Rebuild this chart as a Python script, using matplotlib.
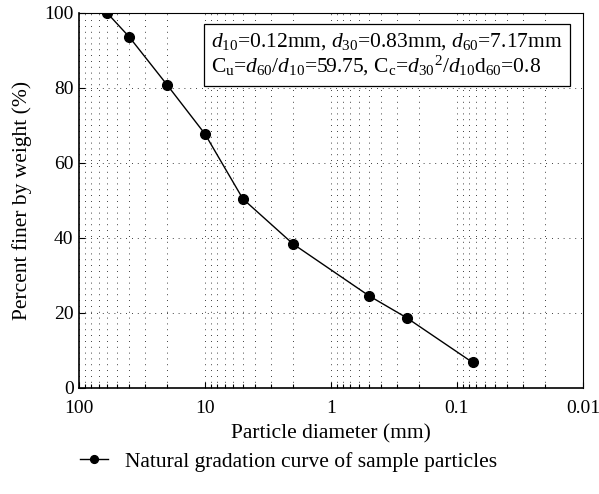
import matplotlib
matplotlib.use("Agg")
import matplotlib.pyplot as plt
import numpy as np

plt.rcParams['font.family'] = 'Liberation Serif'
plt.rcParams['mathtext.fontset'] = 'custom'
plt.rcParams['mathtext.rm'] = 'Liberation Serif'
plt.rcParams['mathtext.it'] = 'Liberation Serif:italic'

# data
diameter = [60, 40, 20, 10, 5, 2, 0.5, 0.25, 0.075]
finer = [100, 93.6, 80.8, 67.7, 50.4, 38.4, 24.6, 18.7, 6.8]
y_ticks = [0, 20, 40, 60, 80, 100]
x_ticks = [100, 10, 1, 0.1, 0.01]
x_ticklabels = ["100", "10", "1", "0.1", "0.01"]

fs = 14
fs_lab = 15.5

fig = plt.figure(figsize=(5.99, 4.94), dpi=100)
ax = fig.add_axes([0.132, 0.2146, 0.841, 0.7594])

ax.plot(diameter, finer, "-o", color="black", lw=1, ms=7,
        label="Natural gradation curve of sample particles")

ax.set_xscale("log")
ax.set_xlim(100, 0.01)
ax.set_ylim(0, 100)
ax.set_xticks(x_ticks)
ax.set_xticklabels(x_ticklabels)
ax.set_yticks(y_ticks)

ax.tick_params(which="both", direction="in", labelsize=fs, color="black")
ax.tick_params(which="major", length=4, width=0.8)
ax.tick_params(axis="x", which="major", pad=9)
ax.tick_params(axis="y", which="major", pad=4)
ax.tick_params(which="minor", length=3, width=0.8)
ax.tick_params(axis="y", which="minor", left=False)

ax.grid(True, which="both", axis="x", color="black", lw=0.6, ls=(0, (1, 6)))
ax.grid(True, which="major", axis="y", color="black", lw=0.6, ls=(0, (1, 6)))

for s in ax.spines.values():
    s.set_linewidth(0.8)
ax.spines['left'].set_linewidth(1.2)
ax.spines['bottom'].set_linewidth(1.2)

ax.set_xlabel("Particle diameter (mm)", fontsize=fs_lab, labelpad=5)
ax.set_ylabel("Percent finer by weight (%)", fontsize=fs_lab, labelpad=9)

txt = ("$\\mathit{d}_{10}$=0.12mm, $\\mathit{d}_{30}$=0.83mm, $\\mathit{d}_{60}$=7.17mm\n"
       "C$_\\mathrm{u}$=$\\mathit{d}_{60}$/$\\mathit{d}_{10}$=59.75, "
       "C$_\\mathrm{c}$=$\\mathit{d}_{30}{}^{2}$/$\\mathit{d}_{10}$d$_{60}$=0.8")
ax.text(0.262, 0.952, txt, transform=ax.transAxes, ha="left", va="top",
        fontsize=15.5, linespacing=1.12,
        bbox=dict(boxstyle="square,pad=0.35", fc="white", ec="black", lw=0.9))

ax.legend(loc="upper left", bbox_to_anchor=(-0.037, -0.118), frameon=False,
          fontsize=fs_lab, handlelength=1.3, handletextpad=0.8, markerscale=0.8)

fig.savefig("out.png", dpi=100)
